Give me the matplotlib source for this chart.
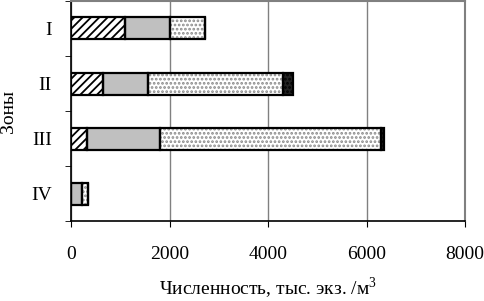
import numpy as np
import matplotlib.pyplot as plt

plt.rcParams['font.family'] = ['Liberation Serif', 'DejaVu Serif']
plt.rcParams['mathtext.fontset'] = 'custom'
plt.rcParams['mathtext.rm'] = 'Liberation Serif'
plt.rcParams['hatch.linewidth'] = 1.3

zones = ["I", "II", "III", "IV"]
# stacked segments, thousand ind. per m3
seg_hatched = [1100, 645, 320, 0]
seg_gray = [900, 910, 1480, 220]
seg_dotted = [710, 2755, 4500, 125]
seg_black = [0, 190, 50, 0]

fig = plt.figure(figsize=(4.85, 3.01), dpi=100)
ax = fig.add_axes([0.147, 0.265, 0.812, 0.732])

y = np.arange(len(zones))
left = np.zeros(len(zones))
styles = [
    dict(color="white", hatch="////", hc="black"),
    dict(color="#c0c0c0", hatch=None, hc="black"),
    dict(color="white", hatch="....", hc="#8a8a8a"),
    dict(color="#222222", hatch="....", hc="black"),
]
for vals, st in zip([seg_hatched, seg_gray, seg_dotted, seg_black], styles):
    # fill + pattern
    ax.barh(y, vals, left=left, height=0.4, color=st["color"], hatch=st["hatch"],
            edgecolor=st["hc"], linewidth=0, zorder=3)
    # outline
    ax.barh(y, vals, left=left, height=0.4, fill=False,
            edgecolor="black", linewidth=1.6, zorder=4)
    left += np.array(vals)

ax.set_xlim(0, 8000)
ax.set_ylim(3.5, -0.5)
ax.set_xticks([0, 2000, 4000, 6000, 8000])
ax.set_yticks(y)
ax.set_yticklabels(zones)
ax.set_yticks([-0.5, 0.5, 1.5, 2.5, 3.5], minor=True)
ax.tick_params(axis="y", which="major", length=0, pad=14, labelsize=14)
ax.tick_params(axis="y", which="minor", length=4, color="black")
ax.tick_params(axis="x", length=4, labelsize=14, pad=14)
ax.grid(axis="x", color="#808080", linewidth=1, zorder=0)
for s in ["top", "right"]:
    ax.spines[s].set_color("#808080")
    ax.spines[s].set_linewidth(1.5)
for s in ["left", "bottom"]:
    ax.spines[s].set_linewidth(1.2)

ax.set_xlabel("Численность, тыс. экз. /м$^3$", fontsize=14, labelpad=9)
ax.set_ylabel("Зоны", fontsize=14, labelpad=10)

fig.savefig("out.png", dpi=100)
